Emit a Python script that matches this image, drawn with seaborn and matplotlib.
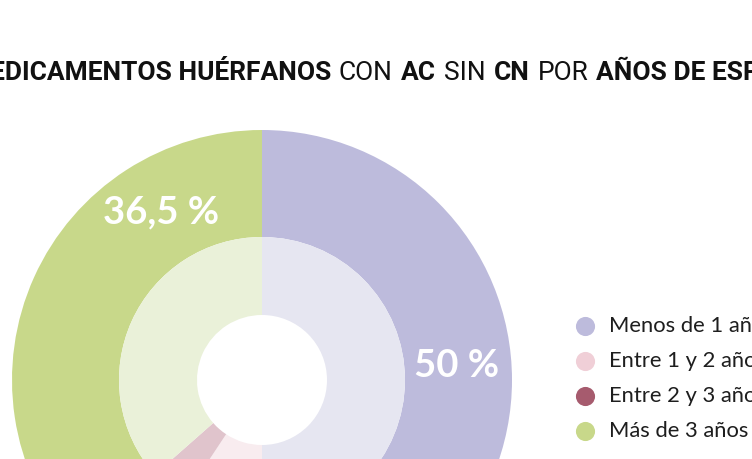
import matplotlib
matplotlib.use("Agg")
import matplotlib.pyplot as plt
import seaborn as sns
import numpy as np
from matplotlib import font_manager as fm

# ---- data ----
categories = ["Menos de 1 año", "Entre 1 y 2 años", "Entre 2 y 3 años", "Más de 3 años"]
values = [50.0, 9.3, 4.2, 36.5]
value_labels = ["50 %", "9,3 %", "4,2 %", "36,5 %"]
title_parts = ["MEDICAMENTOS HUÉRFANOS", "CON", "AC", "SIN", "CN", "POR", "AÑOS DE ESPERA"]
title_bold = [True, False, True, False, True, False, True]

outer_colors = ["#bdbbdc", "#f0cfd7", "#a65b6e", "#c8d88a"]
inner_colors = ["#e6e6f1", "#f8ecef", "#e0c4cc", "#eaf1d9"]

sns.set_theme(style="white")


def pick(fams):
    for f in fams:
        try:
            fm.findfont(fm.FontProperties(family=f), fallback_to_default=False)
            return f
        except Exception:
            continue
    return "DejaVu Sans"


title_font = pick(["Roboto", "DejaVu Sans"])
body_font = pick(["Lato", "Open Sans", "DejaVu Sans"])
plt.rcParams["font.family"] = [body_font, "DejaVu Sans"]

W, H = 752, 459
fig = plt.figure(figsize=(W / 100, H / 100), dpi=100)
fig.patch.set_facecolor("white")
ax = fig.add_axes([0, 0, 1, 1])

cx, cy = 262, H - 380
R_out, R_mid, R_in = 250, 143, 65

ax.pie(values, radius=R_out, center=(cx, cy), startangle=90, counterclock=False,
       colors=outer_colors, wedgeprops=dict(width=R_out - R_mid, linewidth=0), frame=True)
ax.pie(values, radius=R_mid, center=(cx, cy), startangle=90, counterclock=False,
       colors=inner_colors, wedgeprops=dict(width=R_mid - R_in, linewidth=0), frame=True)
ax.set_xlim(0, W)
ax.set_ylim(0, H)
ax.set_aspect("equal")
ax.axis("off")

# value labels on outer ring
cum = np.cumsum([0] + values[:-1])
mids = [(c + v / 2) * 3.6 for c, v in zip(cum, values)]
label_angle_override = {0: 86.0, 3: 329.0}
r_lab = (R_out + R_mid) / 2 - 1
for i, lab in enumerate(value_labels):
    a = np.deg2rad(label_angle_override.get(i, mids[i]))
    x = cx + r_lab * np.sin(a)
    y = cy + r_lab * np.cos(a)
    ax.text(x, y, lab, ha="center", va="center", color="white",
            fontsize=27.5, fontweight="bold", family=[body_font, "DejaVu Sans"])

# legend
leg_x, leg_tx, leg_y0, leg_dy = 585, 609, H - 326, 35
for i, (cat, col) in enumerate(zip(categories, outer_colors)):
    y = leg_y0 - i * leg_dy
    ax.scatter([leg_x], [y], s=190, color=col, linewidths=0, zorder=5, clip_on=False)
    ax.text(leg_tx, y, cat, ha="left", va="center", fontsize=15.8, color="#1e1e1e",
            family=[body_font, "DejaVu Sans"])

# title (mixed weights), laid out as a flowing line
renderer = fig.canvas.get_renderer()
tsize = 19.0
base_y = H - 80
gap = 8.0


def width_of(s, bold):
    t = ax.text(0, 0, s, fontsize=tsize, fontweight="bold" if bold else "normal",
                family=[title_font, "DejaVu Sans"])
    w = t.get_window_extent(renderer).width
    t.remove()
    return w


x = 331 - width_of(title_parts[0], True)
for part, b in zip(title_parts, title_bold):
    ax.text(x, base_y, part, fontsize=tsize, fontweight="bold" if b else "normal",
            family=[title_font, "DejaVu Sans"], color="#111111", ha="left", va="baseline",
            clip_on=False)
    x += width_of(part, b) + gap

fig.savefig("out.png", dpi=100, facecolor="white")
